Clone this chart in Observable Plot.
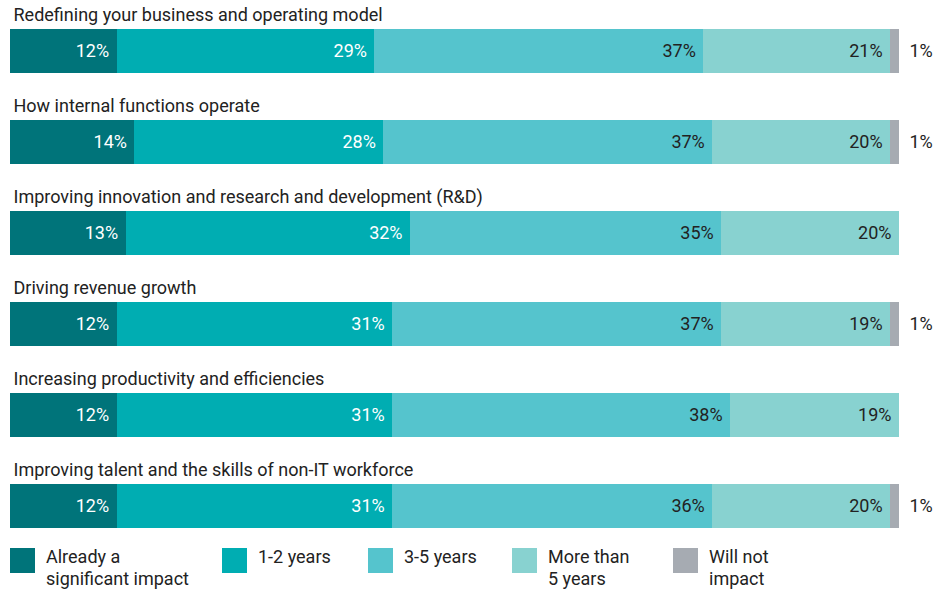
<!DOCTYPE html>
<html><head><meta charset="utf-8">
<script src="https://cdn.jsdelivr.net/npm/d3@7"></script>
<script src="https://cdn.jsdelivr.net/npm/@observablehq/plot@0.6"></script>
<style>
body{margin:0;background:#fff;font-family:Roboto,sans-serif;color:#222;}
#wrap{position:relative;width:947px;height:591px;}
.item{position:absolute;top:548px;}
.sw{position:absolute;left:0;top:0;width:25px;height:25px;}
.lbl{position:absolute;left:36px;top:-2px;font-size:18px;line-height:22px;white-space:nowrap;}
</style></head><body><div id="wrap"><div id="chart"></div></div>
<script>
const categories = [
  "Redefining your business and operating model",
  "How internal functions operate",
  "Improving innovation and research and development (R&D)",
  "Driving revenue growth",
  "Increasing productivity and efficiencies",
  "Improving talent and the skills of non-IT workforce"
];
const series = ["Already a significant impact","1-2 years","3-5 years","More than 5 years","Will not impact"];
const legendLabels = [["Already a","significant impact"],["1-2 years"],["3-5 years"],["More than","5 years"],["Will not","impact"]];
const colors = ["#00747a","#00adb2","#55c4cd","#88d2d0","#a6abb2"];
const alreadyImpact = [12,14,13,12,12,12];
const years1to2 = [29,28,32,31,31,31];
const years3to5 = [37,37,35,37,38,36];
const moreThan5 = [21,20,20,19,19,20];
const willNot = [1,1,null,1,null,1];

const seriesValues = [alreadyImpact, years1to2, years3to5, moreThan5, willNot];
const data = [];
categories.forEach((cat, i) => {
  seriesValues.forEach((vals, si) => {
    if (vals[i] != null) data.push({cat, series: series[si], si, value: vals[i]});
  });
});

const chart = Plot.plot({
  width: 947, height: 540,
  marginLeft: 10, marginRight: 48, marginTop: 0, marginBottom: 0,
  x: {domain: [0, 100], axis: null},
  y: {domain: categories, range: [28, 528], paddingInner: 0.518, paddingOuter: 0, axis: null},
  color: {domain: series, range: colors},
  style: {fontFamily: "Roboto, sans-serif", fontSize: "18px", background: "#fff"},
  marks: [
    Plot.barX(data, {x: "value", y: "cat", fill: "series", z: "series", order: series, shapeRendering: "crispEdges"}),
    Plot.text(data, Plot.stackX2({x: "value", y: "cat", z: "series", order: series,
      text: d => d.si < 2 ? d.value + "%" : null, textAnchor: "end", dx: -8, fill: "white"})),
    Plot.text(data, Plot.stackX2({x: "value", y: "cat", z: "series", order: series,
      text: d => (d.si === 2 || d.si === 3) ? d.value + "%" : null, textAnchor: "end", dx: -8, fill: "#222"})),
    Plot.text(data, Plot.stackX2({x: "value", y: "cat", z: "series", order: series,
      text: d => d.si === 4 ? d.value + "%" : null, textAnchor: "start", dx: 10, fill: "#222"})),
    Plot.text(categories, {y: d => d, text: d => d, frameAnchor: "left", textAnchor: "start", dx: 3, dy: -36, fill: "#222"})
  ]
});
document.getElementById("chart").appendChild(chart);

const legendX = [10, 222, 368, 512, 673];
const wrap = document.getElementById("wrap");
series.forEach((s, i) => {
  const item = document.createElement("div");
  item.className = "item";
  item.style.left = legendX[i] + "px";
  const sw = document.createElement("div");
  sw.className = "sw";
  sw.style.background = colors[i];
  const lbl = document.createElement("div");
  lbl.className = "lbl";
  lbl.innerHTML = legendLabels[i].join("<br>");
  item.appendChild(sw); item.appendChild(lbl);
  wrap.appendChild(item);
});
</script></body></html>
